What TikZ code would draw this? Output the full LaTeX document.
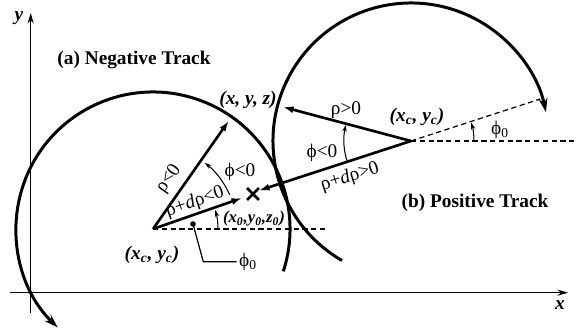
\documentclass[tikz,border=0pt]{standalone}
\usepackage{fontspec}
\setmainfont{Liberation Serif}
\usetikzlibrary{arrows.meta}
\usetikzlibrary{shapes.misc}

\begin{document}
\begin{tikzpicture}[x=0.02cm,y=0.02cm,
  track/.style={line width=1.7pt,-{Stealth[length=8pt,width=5pt]}},
  rvec/.style={line width=1.5pt,-{Latex[length=6pt,width=4pt]}},
  turn/.style={line width=0.6pt,-{Stealth[length=4pt,width=2.5pt]}},
  axis/.style={line width=0.7pt,-{Stealth[length=6pt,width=3.5pt]}},
  guide/.style={line width=0.7pt,dash pattern=on 3pt off 2pt},
  lbl/.style={font=\fontsize{11}{13}\selectfont,inner sep=0.5pt},
  pt/.style={font=\fontsize{11}{13}\selectfont\bfseries\itshape,inner sep=0.5pt}]
\useasboundingbox (0,0) rectangle (576,334);
% axes
\coordinate (xa) at (10,41.3);
\coordinate (xb) at (568,41.3);
\coordinate (ya) at (30.7,21.3);
\coordinate (yb) at (30.7,321);
\draw[axis] (xa) -- (xb);
\draw[axis] (ya) -- (yb);
\node[pt] (xlab) at (560,29) {x};
\node[pt] (ylab) at (19,316) {y};

\coordinate (c1) at (153,105);
\coordinate (c2) at (411,193);
% tracks
\draw[track] ([shift={(-18:137)}]c1) arc[start angle=-18,end angle=226,radius=137];
\draw[track] ([shift={(240:138)}]c2) arc[start angle=240,end angle=12,radius=138];

% reference lines
\coordinate (h1) at (328,105);
\coordinate (h2) at (576,193);
\coordinate (p2) at ([shift={(18:136)}]c2);
\draw[guide] (c1) -- (h1);
\draw[guide] (c2) -- (h2);
\draw[guide] (c2) -- (p2);

% radius vectors
\coordinate (xyz1) at ([shift={(55:132)}]c1);
\coordinate (xyz2) at (283,227);
\coordinate (d1) at (242,136);
\coordinate (d2) at (259,143.5);
\node[cross out,draw,line width=1.6pt,minimum size=0.18cm,inner sep=0pt] (x0) at (253,140) {};
\draw[rvec] (c1) -- (xyz1);
\draw[rvec] (c1) -- (d1);
\draw[rvec] (c2) -- (xyz2);
\draw[rvec] (c2) -- (d2);

% angles
\draw[turn] ([shift={(24:84)}]c1) arc[start angle=24,end angle=52,radius=84];
\draw[turn] ([shift={(0:65)}]c1) arc[start angle=0,end angle=17,radius=65];
\draw[turn] ([shift={(199:67)}]c2) arc[start angle=199,end angle=166,radius=67];
\draw[turn] ([shift={(0:63)}]c2) arc[start angle=0,end angle=17,radius=63];

% leader for phi0
\coordinate (dot) at (193,110);
\coordinate (bend) at (203.3,72.3);
\coordinate (lend) at (236.7,72.3);
\fill (dot) circle (2.8);
\draw[line width=0.7pt] (dot) -- (bend) -- (lend);

% labels
\node[font=\fontsize{11}{13}\selectfont\bfseries] (tA) at (134,274) {(a) Negative Track};
\node[font=\fontsize{11}{13}\selectfont\bfseries] (tB) at (475,131) {(b) Positive Track};
\node[pt] (xyz) at (248,234) {(x, y, z)};
\node[pt] (cc1) at (152,79) {(x\textsubscript{c}, y\textsubscript{c})};
\node[pt] (cc2) at (417,217) {(x\textsubscript{c}, y\textsubscript{c})};
\node[pt,font=\fontsize{9.5}{11}\selectfont\bfseries\itshape] (x0lab) at (254,115) {(x\textsubscript{0},y\textsubscript{0},z\textsubscript{0})};
\node[lbl,rotate=55] (r1) at (169,155) {ρ<0};
\node[lbl,rotate=19] (rd1) at (195,132) {ρ+\textit{d}ρ<0};
\node[lbl] (f1) at (240,162) {ϕ<0};
\node[lbl] (f2) at (322,181) {ϕ<0};
\node[lbl] (r2) at (346,224) {ρ>0};
\node[lbl,rotate=18] (rd2) at (350,157) {ρ+\textit{d}ρ>0};
\node[lbl] (f02) at (500,204) {ϕ\textsubscript{0}};
\node[lbl] (f01) at (248,72) {ϕ\textsubscript{0}};

\end{tikzpicture}
\end{document}
